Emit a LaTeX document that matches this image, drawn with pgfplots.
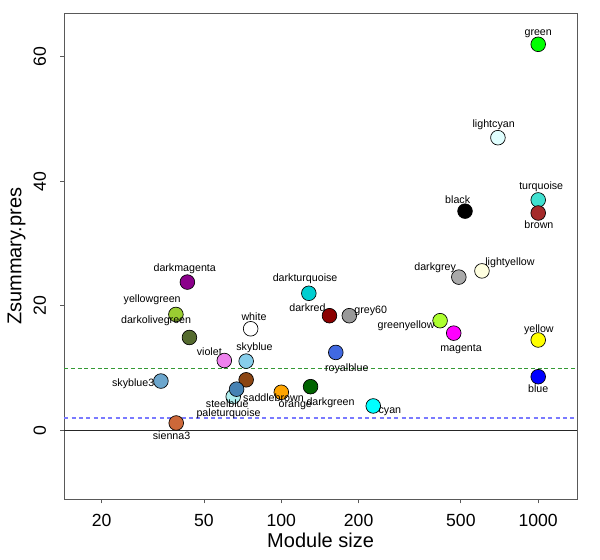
\documentclass[border=0pt]{standalone}
\usepackage{fontspec}
\setmainfont{Liberation Sans}
\usepackage{pgfplots}
\usepackage{pgfplotstable}
\pgfplotsset{compat=1.18}

\definecolor{cgreen}{HTML}{00FF00}
\definecolor{clightcyan}{HTML}{E0FFFF}
\definecolor{cturquoise}{HTML}{40E0D0}
\definecolor{cbrown}{HTML}{A52A2A}
\definecolor{cblack}{HTML}{000000}
\definecolor{cdarkgrey}{HTML}{A9A9A9}
\definecolor{clightyellow}{HTML}{FFFFE0}
\definecolor{cgreenyellow}{HTML}{ADFF2F}
\definecolor{cmagenta}{HTML}{FF00FF}
\definecolor{cyellow}{HTML}{FFFF00}
\definecolor{cblue}{HTML}{0000FF}
\definecolor{cdarkmagenta}{HTML}{8B008B}
\definecolor{cyellowgreen}{HTML}{9ACD32}
\definecolor{cdarkolivegreen}{HTML}{556B2F}
\definecolor{cwhite}{HTML}{FFFFFF}
\definecolor{cdarkturquoise}{HTML}{00CED1}
\definecolor{cdarkred}{HTML}{8B0000}
\definecolor{cgrey60}{HTML}{999999}
\definecolor{croyalblue}{HTML}{4169E1}
\definecolor{cviolet}{HTML}{EE82EE}
\definecolor{cskyblue}{HTML}{87CEEB}
\definecolor{cskyblue3}{HTML}{6CA6CD}
\definecolor{csaddlebrown}{HTML}{8B4513}
\definecolor{csteelblue}{HTML}{4682B4}
\definecolor{cpaleturquoise}{HTML}{AFEEEE}
\definecolor{corange}{HTML}{FFA500}
\definecolor{cdarkgreen}{HTML}{006400}
\definecolor{ccyan}{HTML}{00FFFF}
\definecolor{csienna3}{HTML}{CD6839}
\definecolor{refgreen}{HTML}{339933}
\definecolor{refblue}{HTML}{7A7AFF}

\pgfplotstableread{
x y dx dy label
1000 62.0 0 8 green
697 47.0 -3.2 9.5 lightcyan
1000 37.0 2.25 10 turquoise
1000 34.9 0.5 -8.5 brown
519 35.2 -5.5 8.8 black
491 24.6 -17.8 7 darkgrey
604 25.6 21 6.3 lightyellow
415 17.6 -25.5 -3.5 greenyellow
469 15.6 5.5 -12 magenta
1000 14.5 0.5 7.7 yellow
1000 8.6 0 -8.7 blue
43.1 23.8 -2 9.75 darkmagenta
38.9 18.6 -17.8 11.25 yellowgreen
43.9 14.9 -25 12.2 darkolivegreen
76 16.3 2.5 8.8 white
128 22.0 -2.8 10.7 darkturquoise
154 18.4 -16.5 5.8 darkred
184 18.4 16 3.75 grey60
163 12.5 8.25 -12 royalblue
60 11.2 -11.25 6.75 violet
73 11.1 6.2 9.75 skyblue
34 7.9 -20.8 -1.7 skyblue3
73 8.1 20.5 -13.3 saddlebrown
67 6.6 -7 -11 steelblue
65 5.4 -3.5 -12.5 paleturquoise
100 6.1 10.5 -10.3 orange
130 7.0 15 -12 darkgreen
228 3.9 12.5 -4.3 cyan
39 1.16 -3.5 -9.75 sienna3
}\labels

\newcommand{\pt}[3]{\addplot[only marks, mark=*, mark size=5.5pt, mark options={fill=#3, draw=black, line width=0.5pt}] coordinates {(#1,#2)};}

\begin{document}
\begin{tikzpicture}
\path[use as bounding box] (-48.2pt,-44.8pt) rectangle (401.8pt,374.5pt);
\begin{axis}[
  at={(0,0)}, anchor=south west,
  scale only axis, width=384.5pt, height=364.6pt,
  xmode=log, xmin=14.3, xmax=1415, ymin=-11.1, ymax=67,
  xtick={20,50,100,200,500,1000}, xticklabels={20,50,100,200,500,1000},
  ytick={0,20,40,60},
  minor xtick={}, 
  tick pos=left, tick align=outside, major tick length=3pt,
  axis line style={black!65, line width=0.6pt},
  every tick/.style={black!65, line width=0.6pt},
  /pgf/number format/assume math mode=true,
  xticklabel style={font=\fontsize{13.2}{15}\selectfont, anchor=base, inner sep=0pt, yshift=-17.6pt},
  yticklabel style={font=\fontsize{13.2}{15}\selectfont, xshift=-10.9pt, rotate=90, anchor=base, inner sep=0pt},
  xlabel={Module size}, ylabel={Zsummary.pres},
  xlabel style={font=\fontsize{15}{17}\selectfont, at={(axis description cs:0.5,0)}, anchor=base, inner sep=0pt, yshift=-35.9pt},
  ylabel style={font=\fontsize{15}{17}\selectfont, at={([xshift=-35.7pt]axis description cs:0,0.5)}, anchor=center, inner sep=0pt, rotate=0},
  clip=false,
]
\addplot[black!85, line width=0.6pt] coordinates {(14.3,0) (1415,0)};
\addplot[refgreen, line width=0.6pt, dash pattern=on 3pt off 2pt] coordinates {(14.3,10) (1415,10)};
\addplot[refblue, line width=1.15pt, dash pattern=on 3pt off 2.5pt] coordinates {(14.3,2) (1415,2)};

\pt{1000}{62.0}{cgreen}
\pt{697}{47.0}{clightcyan}
\pt{1000}{37.0}{cturquoise}
\pt{1000}{34.9}{cbrown}
\pt{519}{35.2}{cblack}
\pt{491}{24.6}{cdarkgrey}
\pt{604}{25.6}{clightyellow}
\pt{415}{17.6}{cgreenyellow}
\pt{469}{15.6}{cmagenta}
\pt{1000}{14.5}{cyellow}
\pt{1000}{8.6}{cblue}
\pt{43.1}{23.8}{cdarkmagenta}
\pt{38.9}{18.6}{cyellowgreen}
\pt{43.9}{14.9}{cdarkolivegreen}
\pt{76}{16.3}{cwhite}
\pt{128}{22.0}{cdarkturquoise}
\pt{154}{18.4}{cdarkred}
\pt{184}{18.4}{cgrey60}
\pt{163}{12.5}{croyalblue}
\pt{60}{11.2}{cviolet}
\pt{73}{11.1}{cskyblue}
\pt{34}{7.9}{cskyblue3}
\pt{65}{5.4}{cpaleturquoise}
\pt{73}{8.1}{csaddlebrown}
\pt{67}{6.6}{csteelblue}
\pt{100}{6.1}{corange}
\pt{130}{7.0}{cdarkgreen}
\pt{228}{3.9}{ccyan}
\pt{39}{1.16}{csienna3}

\addplot[only marks, mark=*, mark size=0pt, mark options={draw=none, fill=none},
  nodes near coords, point meta=explicit symbolic,
  visualization depends on={\thisrow{dx}\as\dx},
  visualization depends on={\thisrow{dy}\as\dy},
  every node near coord/.style={anchor=center, inner sep=0pt, font=\fontsize{8}{9}\selectfont, xshift=\dx*1pt, yshift=\dy*1pt, text=black}]
  table[x=x, y=y, meta=label] {\labels};
\end{axis}
\end{tikzpicture}
\end{document}
